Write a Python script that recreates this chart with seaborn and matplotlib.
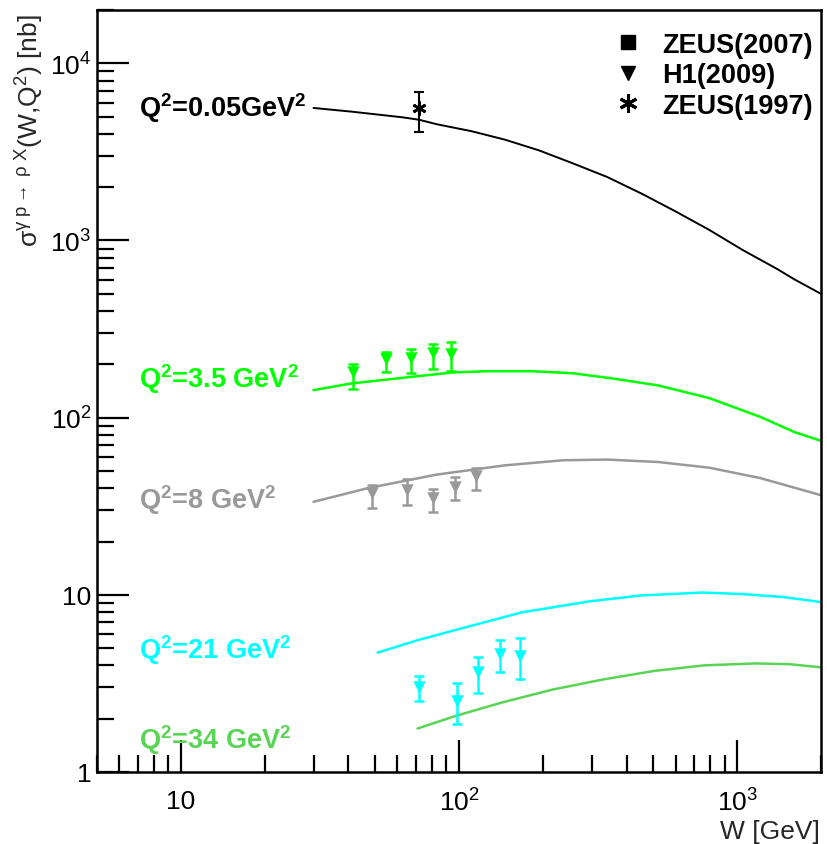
import numpy as np
import pandas as pd
import matplotlib
matplotlib.use("Agg")
import matplotlib.pyplot as plt
import matplotlib.ticker as mticker
from matplotlib.lines import Line2D
import seaborn as sns

# ---------------- data ----------------
# model curves (W [GeV], sigma [nb])
w_005 = [30, 41.2, 62.9, 72, 83.4, 110.5, 146, 194, 257, 341, 452, 598, 793, 1051, 1393, 1603, 2000]
s_005 = [5600, 5335, 4955, 4800, 4528, 4145, 3711, 3225, 2723, 2282, 1843, 1464, 1148, 880, 690, 604, 500]

w_35 = [30, 41, 63, 95, 127, 183, 257, 361, 520, 793, 1210, 1603, 2000]
s_35 = [143, 156, 168, 180, 183, 183, 178, 166, 152, 129, 101, 83, 74]

w_8 = [30, 47, 83, 146, 237, 341, 520, 793, 1210, 2000]
s_8 = [33.5, 40, 47.7, 53.8, 57.5, 58, 56.2, 52.2, 45.6, 36.5]

w_21 = [51, 72, 110, 168, 296, 452, 748, 1051, 1476, 2000]
s_21 = [4.72, 5.58, 6.67, 7.96, 9.2, 9.92, 10.3, 10.1, 9.7, 9.1]

w_34 = [71, 97, 143, 217, 330, 503, 764, 1161, 1538, 2000]
s_34 = [1.76, 2.07, 2.47, 2.92, 3.33, 3.72, 4.0, 4.10, 4.06, 3.90]

# H1(2009) data
h1_w_35 = [41.5, 54.6, 67.1, 80.4, 93.5]
h1_s_35 = [181, 213, 218, 233, 230]
h1_lo_35 = [146, 180, 179, 189, 184]
h1_hi_35 = [200, 235, 243, 262, 268]

h1_w_8 = [48.6, 64.9, 80.4, 97.0, 115.0]
h1_s_8 = [37.6, 39.3, 35.3, 40.6, 46.8]
h1_lo_8 = [30.9, 32.2, 29.3, 34.4, 39.2]
h1_hi_8 = [41.5, 44.8, 39.7, 46.2, 52.0]

h1_w_21 = [71.9, 98.1, 117.2, 140.0, 166.0]
h1_s_21 = [3.01, 2.53, 3.66, 4.64, 4.54]
h1_lo_21 = [2.51, 1.87, 2.79, 3.69, 3.35]
h1_hi_21 = [3.50, 3.17, 4.48, 5.59, 5.69]

# ZEUS(1997) photoproduction point
z97_w = [71.8]
z97_s = [5570]
z97_lo = [4100]
z97_hi = [6900]

labels = ["Q$^{\\mathbf{2}}$=0.05GeV$^{\\mathbf{2}}$", "Q$^{\\mathbf{2}}$=3.5 GeV$^{\\mathbf{2}}$",
          "Q$^{\\mathbf{2}}$=8 GeV$^{\\mathbf{2}}$", "Q$^{\\mathbf{2}}$=21 GeV$^{\\mathbf{2}}$",
          "Q$^{\\mathbf{2}}$=34 GeV$^{\\mathbf{2}}$"]
legend_labels = ["ZEUS(2007)", "H1(2009)", "ZEUS(1997)"]

# ---------------- style ----------------
sns.set_style("white")
plt.rcParams['font.family'] = ['Liberation Sans', 'DejaVu Sans']
plt.rcParams['mathtext.fontset'] = 'custom'
plt.rcParams['mathtext.rm'] = 'Liberation Sans'
plt.rcParams['mathtext.it'] = 'Liberation Sans:italic'
plt.rcParams['mathtext.bf'] = 'Liberation Sans:bold'
plt.rcParams['mathtext.default'] = 'regular'

BLACK = "#000000"
GREEN = "#00ff00"
GRAY = "#999999"
CYAN = "#00ffff"
GREEN2 = "#59d454"

fig = plt.figure(figsize=(8.28, 8.45), dpi=100)
ax = fig.add_axes([97/828, 1-773/845, (821-97)/828, (773-11)/845])
ax.set_xscale("log")
ax.set_yscale("log")

curves = [(w_005, s_005, BLACK, 1.4), (w_35, s_35, GREEN, 1.8), (w_8, s_8, GRAY, 1.8),
          (w_21, s_21, CYAN, 1.8), (w_34, s_34, GREEN2, 1.8)]
for w, s, c, lw in curves:
    df = pd.DataFrame({"W": w, "sigma": s})
    sns.lineplot(data=df, x="W", y="sigma", color=c, lw=lw, ax=ax, sort=True, estimator=None)

def draw_points(w, s, lo, hi, c, marker, ms):
    s = np.array(s); lo = np.array(lo); hi = np.array(hi)
    ax.errorbar(w, s, yerr=[s - lo, hi - s], fmt='none', ecolor=c, elinewidth=1.8,
                capsize=3.5, capthick=1.8, zorder=4)
    df = pd.DataFrame({"W": w, "sigma": s})
    sns.scatterplot(data=df, x="W", y="sigma", color=c, marker=marker, s=ms, linewidth=0,
                    ax=ax, zorder=5)

draw_points(h1_w_35, h1_s_35, h1_lo_35, h1_hi_35, GREEN, 'v', 80)
draw_points(h1_w_8, h1_s_8, h1_lo_8, h1_hi_8, GRAY, 'v', 80)
draw_points(h1_w_21, h1_s_21, h1_lo_21, h1_hi_21, CYAN, 'v', 80)
ax.errorbar(z97_w, z97_s, yerr=[[z97_s[0]-z97_lo[0]], [z97_hi[0]-z97_s[0]]], fmt='none',
            ecolor=BLACK, elinewidth=1.5, capsize=3.5, capthick=1.5, zorder=4)
ax.plot(z97_w, z97_s, linestyle='none', marker=(6, 2, 0), markersize=10, color=BLACK,
        markeredgewidth=2.0, zorder=5)

ax.set_xlim(5, 2000)
ax.set_ylim(1, 2e4)
ax.set_xlabel("")
ax.set_ylabel("")

# ticks (ROOT style: inside, only left/bottom)
def fmt(v, pos):
    e = int(round(np.log10(v)))
    if e == 0:
        return "1"
    if e == 1:
        return "10"
    return "$10^{%d}$" % e

ax.xaxis.set_major_locator(mticker.LogLocator(base=10, numticks=20))
ax.xaxis.set_minor_locator(mticker.LogLocator(base=10, subs=np.arange(2, 10), numticks=20))
ax.yaxis.set_major_locator(mticker.LogLocator(base=10, numticks=20))
ax.yaxis.set_minor_locator(mticker.LogLocator(base=10, subs=np.arange(2, 10), numticks=20))
ax.xaxis.set_major_formatter(mticker.FuncFormatter(fmt))
ax.yaxis.set_major_formatter(mticker.FuncFormatter(fmt))
ax.xaxis.set_minor_formatter(mticker.NullFormatter())
ax.yaxis.set_minor_formatter(mticker.NullFormatter())
ax.tick_params(axis='both', which='major', direction='in', length=23, width=1.6,
               labelsize=19, bottom=True, left=True, top=False, right=False,
               color='black', labelcolor='black')
ax.tick_params(axis='both', which='minor', direction='in', length=12, width=1.6,
               bottom=True, left=True, top=False, right=False, color='black')
ax.tick_params(axis='x', which='major', pad=12)
ax.tick_params(axis='y', which='major', pad=4)
for sp in ax.spines.values():
    sp.set_linewidth(1.8)
    sp.set_color('black')

# curve labels
lab_y = [5020, 149.6, 31.0, 4.41, 1.366]
lab_c = [BLACK, GREEN, GRAY, CYAN, GREEN2]
for t, y, c in zip(labels, lab_y, lab_c):
    ax.text(7.06, y, t, color=c, fontsize=19.5, fontweight='bold', ha='left', va='baseline')

# legend
handles = [Line2D([], [], ls='none', marker='s', ms=10, color='black'),
           Line2D([], [], ls='none', marker='v', ms=10, color='black'),
           Line2D([], [], ls='none', marker=(6, 2, 0), ms=13, mew=2.2, color='black')]
leg = ax.legend(handles, legend_labels, loc='upper right',
                bbox_to_anchor=(1.0 + 7/724, 1.0 - 7/762),
                frameon=False, prop={'weight': 'bold', 'size': 19.5}, handletextpad=0.68,
                labelspacing=0.16, borderaxespad=0.25, handlelength=1.2, borderpad=0.3)
for t in leg.get_texts():
    t.set_color('black')

# axis titles
fig.text(820/828, 1-832/845, "W [GeV]", ha='right', va='center', fontsize=19)
fig.text(30/828, 1-14/845, "$\\sigma^{\\gamma\\ p\\rightarrow\\ \\rho\\ X}$(W,Q$^{2}$) [nb]",
         rotation=90, ha='center', va='top', fontsize=19)

fig.savefig("out.png", dpi=100, facecolor='white')
